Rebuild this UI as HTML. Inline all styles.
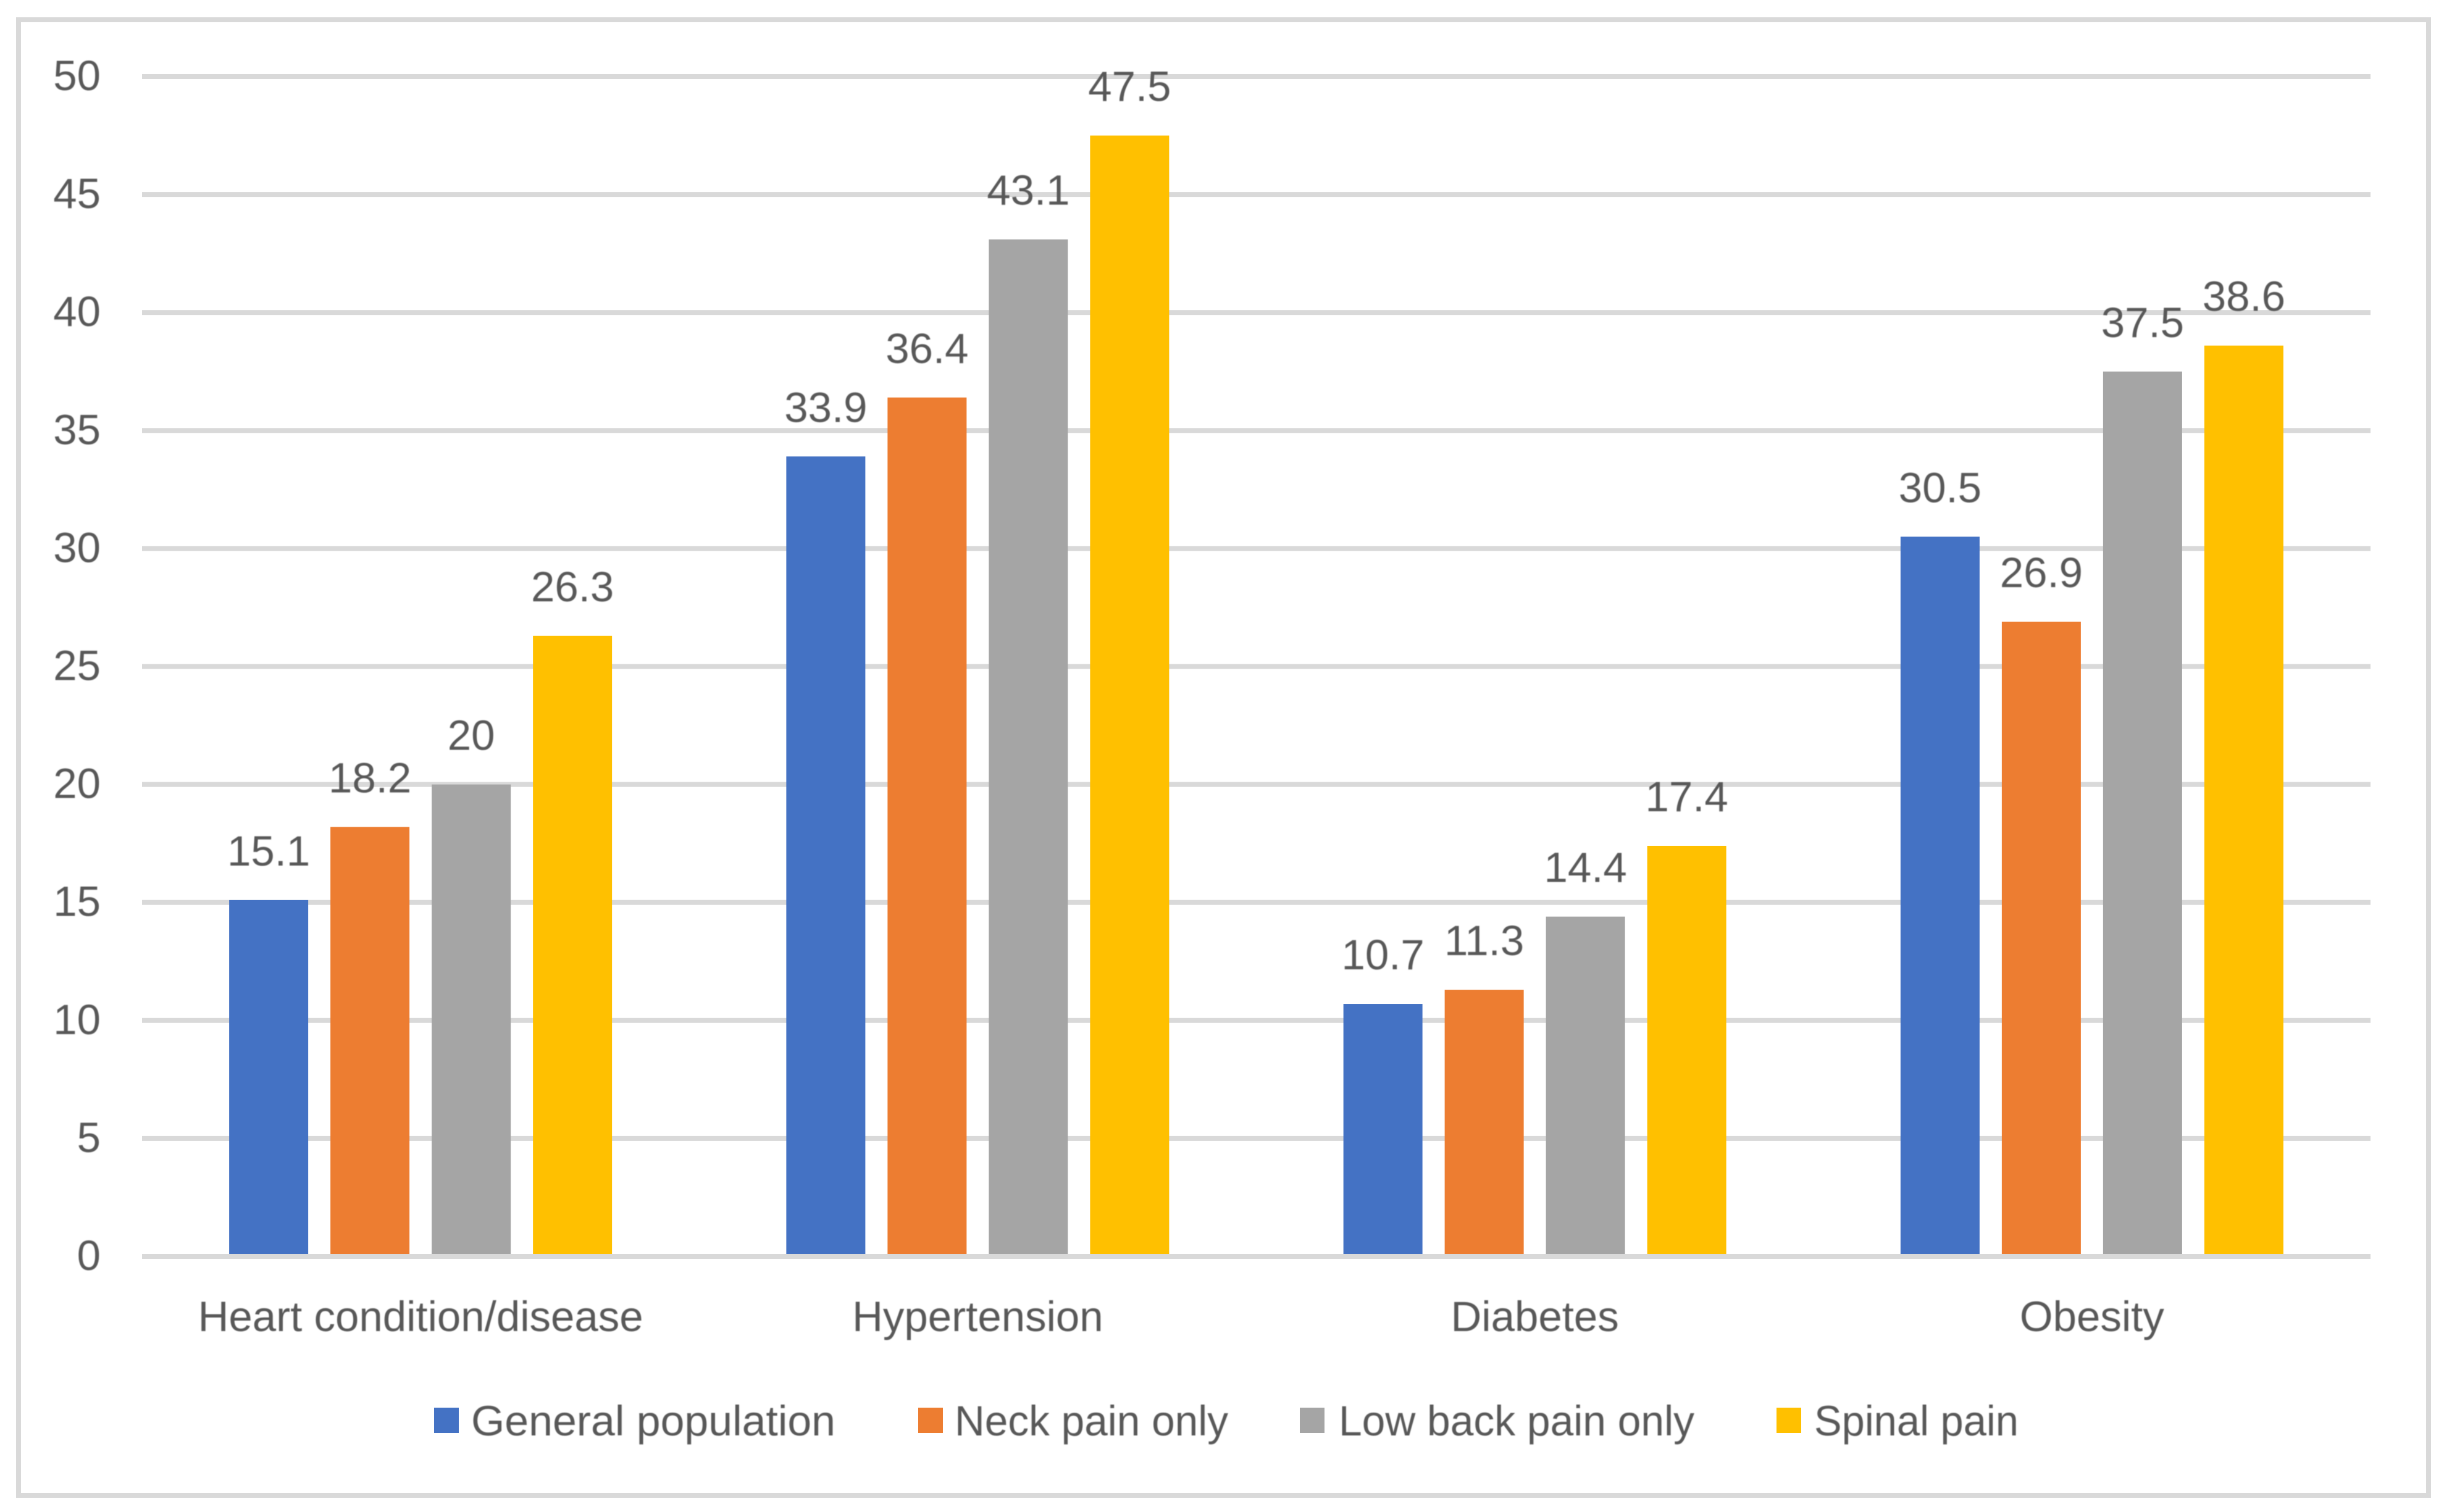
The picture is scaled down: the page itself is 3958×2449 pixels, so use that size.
<!DOCTYPE html>
<html lang="en">
<head>
<meta charset="utf-8">
<title>Comorbidity prevalence by pain group</title>
<style>
  html, body { margin: 0; padding: 0; background: #fff; }
  svg { display: block; }
  text { font-family: "Liberation Sans", Arial, sans-serif; font-size: 69px; fill: #595959; }
</style>
</head>
<body>
<svg id="chart" xmlns="http://www.w3.org/2000/svg" width="3958" height="2449" viewBox="0 0 3958 2449">
  <defs>
    <filter id="soft" x="-5%" y="-5%" width="110%" height="110%"><feGaussianBlur stdDeviation="0.9"/></filter>
  </defs>
  <rect x="0" y="0" width="3958" height="2449" fill="#ffffff"/>
  <rect x="30" y="32" width="3903" height="2390" fill="#ffffff" stroke="#d9d9d9" stroke-width="8"/>
  <g id="grid"></g>
  <g id="bars"></g>
  <g id="labels" filter="url(#soft)"></g>
  <g>
    <g>
      <rect x="703" y="2280" width="40" height="41" fill="#4472c4"/>
      <text x="763" y="2325" textLength="590" lengthAdjust="spacingAndGlyphs" filter="url(#soft)">General population</text>
    </g>
    <g>
      <rect x="1487" y="2280" width="40" height="41" fill="#ed7d31"/>
      <text x="1546" y="2325" textLength="443" lengthAdjust="spacingAndGlyphs" filter="url(#soft)">Neck pain only</text>
    </g>
    <g>
      <rect x="2105" y="2280" width="40" height="41" fill="#a5a5a5"/>
      <text x="2168" y="2325" textLength="576" lengthAdjust="spacingAndGlyphs" filter="url(#soft)">Low back pain only</text>
    </g>
    <g>
      <rect x="2877" y="2280" width="40" height="41" fill="#ffc000"/>
      <text x="2938" y="2325" textLength="331" lengthAdjust="spacingAndGlyphs" filter="url(#soft)">Spinal pain</text>
    </g>
  </g>
</svg>
<script>
const categories = ["Heart condition/disease", "Hypertension", "Diabetes", "Obesity"];
const generalPopulation = [15.1, 33.9, 10.7, 30.5];
const neckPainOnly = [18.2, 36.4, 11.3, 26.9];
const lowBackPainOnly = [20, 43.1, 14.4, 37.5];
const spinalPain = [26.3, 47.5, 17.4, 38.6];
const yTickLabels = [0, 5, 10, 15, 20, 25, 30, 35, 40, 45, 50];

const seriesValues = [generalPopulation, neckPainOnly, lowBackPainOnly, spinalPain];
const seriesSlugs = ["general-population", "neck-pain-only", "low-back-pain-only", "spinal-pain"];
const seriesFills = ["#4472c4", "#ed7d31", "#a5a5a5", "#ffc000"];

const NS = "http://www.w3.org/2000/svg";
const plot = { left: 230, right: 3839, zeroY: 2035, topY: 124, maxValue: 50 };
const barWidth = 128;
const barStep = 164;
const gridThickness = 8;

function yScale(v) {
  return plot.zeroY - (v / plot.maxValue) * (plot.zeroY - plot.topY);
}
function bandCenter(i) {
  const band = (plot.right - plot.left) / categories.length;
  return plot.left + band * (i + 0.5);
}
function barLeft(catIndex, serIndex) {
  const groupWidth = barStep * (seriesValues.length - 1) + barWidth;
  return bandCenter(catIndex) - groupWidth / 2 + barStep * serIndex;
}
function slug(s) {
  return s.toLowerCase().replace(/[^a-z0-9]+/g, "-");
}

const gridG = document.getElementById("grid");
const barsG = document.getElementById("bars");
const labelsG = document.getElementById("labels");

yTickLabels.forEach(function (tick) {
  const line = document.createElementNS(NS, "rect");
  
  
  line.setAttribute("x", plot.left);
  line.setAttribute("y", yScale(tick) - gridThickness / 2);
  line.setAttribute("width", plot.right - plot.left);
  line.setAttribute("height", gridThickness);
  line.setAttribute("fill", "#d9d9d9");
  gridG.appendChild(line);

  const label = document.createElementNS(NS, "text");
  
  
  label.setAttribute("x", 163);
  label.setAttribute("y", yScale(tick) + 22);
  label.setAttribute("text-anchor", "end");
  label.textContent = String(tick);
  labelsG.appendChild(label);
});

categories.forEach(function (cat, c) {
  const catLabel = document.createElementNS(NS, "text");
  
  
  catLabel.setAttribute("x", bandCenter(c));
  catLabel.setAttribute("y", 2156);
  catLabel.setAttribute("text-anchor", "middle");
  catLabel.textContent = cat;
  labelsG.appendChild(catLabel);

  seriesValues.forEach(function (values, s) {
    const value = values[c];
    const top = yScale(value);
    const x = barLeft(c, s);

    const bar = document.createElementNS(NS, "rect");
    
    
    bar.setAttribute("x", x);
    bar.setAttribute("y", top);
    bar.setAttribute("width", barWidth);
    bar.setAttribute("height", plot.zeroY - gridThickness / 2 - top);
    bar.setAttribute("fill", seriesFills[s]);
    barsG.appendChild(bar);

    const valueLabel = document.createElementNS(NS, "text");
    
    
    valueLabel.setAttribute("x", x + barWidth / 2);
    valueLabel.setAttribute("y", top - 56);
    valueLabel.setAttribute("text-anchor", "middle");
    valueLabel.textContent = String(value);
    labelsG.appendChild(valueLabel);
  });
});
</script>
</body>
</html>
